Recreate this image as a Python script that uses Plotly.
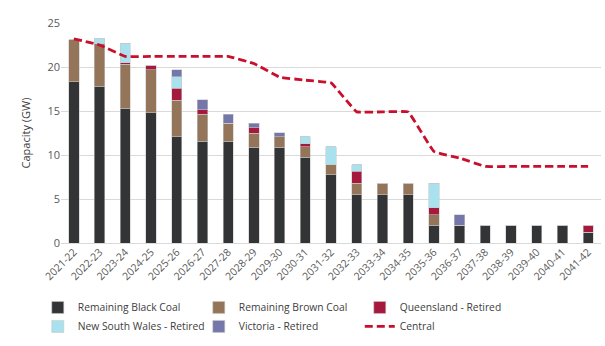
import plotly.graph_objects as go

years = ["2021-22","2022-23","2023-24","2024-25","2025-26","2026-27","2027-28","2028-29",
         "2029-30","2030-31","2031-32","2032-33","2033-34","2034-35","2035-36","2036-37",
         "2037-38","2038-39","2039-40","2040-41","2041-42"]

black_coal = [18.3, 17.8, 15.3, 14.8, 12.1, 11.55, 11.55, 10.9, 10.9, 9.75, 7.75, 5.5, 5.5, 5.5, 2.0, 2.0, 2.0, 2.0, 2.0, 2.0, 1.25]
brown_coal = [4.8, 4.85, 5.0, 4.9, 4.1, 3.1, 2.05, 1.6, 1.2, 1.2, 1.15, 1.3, 1.3, 1.3, 1.2, 0, 0, 0, 0, 0, 0]
qld_retired = [0, 0, 0.2, 0.5, 1.4, 0.5, 0, 0.6, 0, 0.35, 0, 1.35, 0, 0, 0.8, 0, 0, 0, 0, 0, 0.75]
nsw_retired = [0, 0.55, 2.2, 0, 1.3, 0, 0, 0, 0, 0.8, 2.05, 0.75, 0, 0, 2.8, 0, 0, 0, 0, 0, 0]
vic_retired = [0, 0, 0, 0, 0.8, 1.15, 1.05, 0.5, 0.45, 0, 0, 0, 0, 0, 0, 1.2, 0, 0, 0, 0, 0]
central = [23.2, 22.5, 21.2, 21.2, 21.2, 21.2, 21.2, 20.4, 18.85, 18.5, 18.2, 14.9, 14.9, 14.9,
           10.4, 9.65, 8.7, 8.7, 8.7, 8.7, 8.7]

font_family = "Open Sans, Noto Sans, sans-serif"
edge = dict(color="rgba(200,200,200,0.7)", width=0.8)

fig = go.Figure()
series = [
    ("Remaining Black Coal", black_coal, "#333435"),
    ("Remaining Brown Coal", brown_coal, "#957559"),
    ("Queensland - Retired", qld_retired, "#A6193C"),
    ("New South Wales - Retired", nsw_retired, "#A9E1EF"),
    ("Victoria - Retired", vic_retired, "#7577AA"),
]
for name, vals, col in series:
    fig.add_trace(go.Bar(x=years, y=vals, name=name, marker=dict(color=col, line=edge)))

fig.add_trace(go.Scatter(x=years, y=central, name="Central", mode="lines",
                         line=dict(color="#C8102E", width=2.8, dash="8px,4px", shape="spline", smoothing=0.2)))

fig.update_layout(
    width=605, height=346,
    margin=dict(l=61, r=4, t=23, b=103, autoexpand=False),
    barmode="stack", bargap=0.6,
    paper_bgcolor="white", plot_bgcolor="white",
    font=dict(family=font_family, size=11, color="#595959"),
    showlegend=True,
    legend=dict(orientation="h", x=-0.043, xanchor="left", y=-0.227, yanchor="top",
                entrywidth=116, traceorder="normal",
                font=dict(family=font_family, size=10.3, color="#404040"),
                itemwidth=30, tracegroupgap=0),
)
fig.update_xaxes(tickangle=-45, showgrid=False, showline=False, ticks="",
                 tickfont=dict(size=10.5, color="#595959"))
fig.update_yaxes(range=[0, 25], dtick=5, showgrid=True, gridcolor="#D9D9D9", gridwidth=1,
                 zeroline=True, zerolinecolor="#D9D9D9", zerolinewidth=1,
                 title=dict(text="Capacity (GW)", font=dict(size=11, color="#404040"), standoff=14),
                 tickfont=dict(size=11, color="#595959"), ticks="", ticklen=0)

fig.write_html("out.html")
